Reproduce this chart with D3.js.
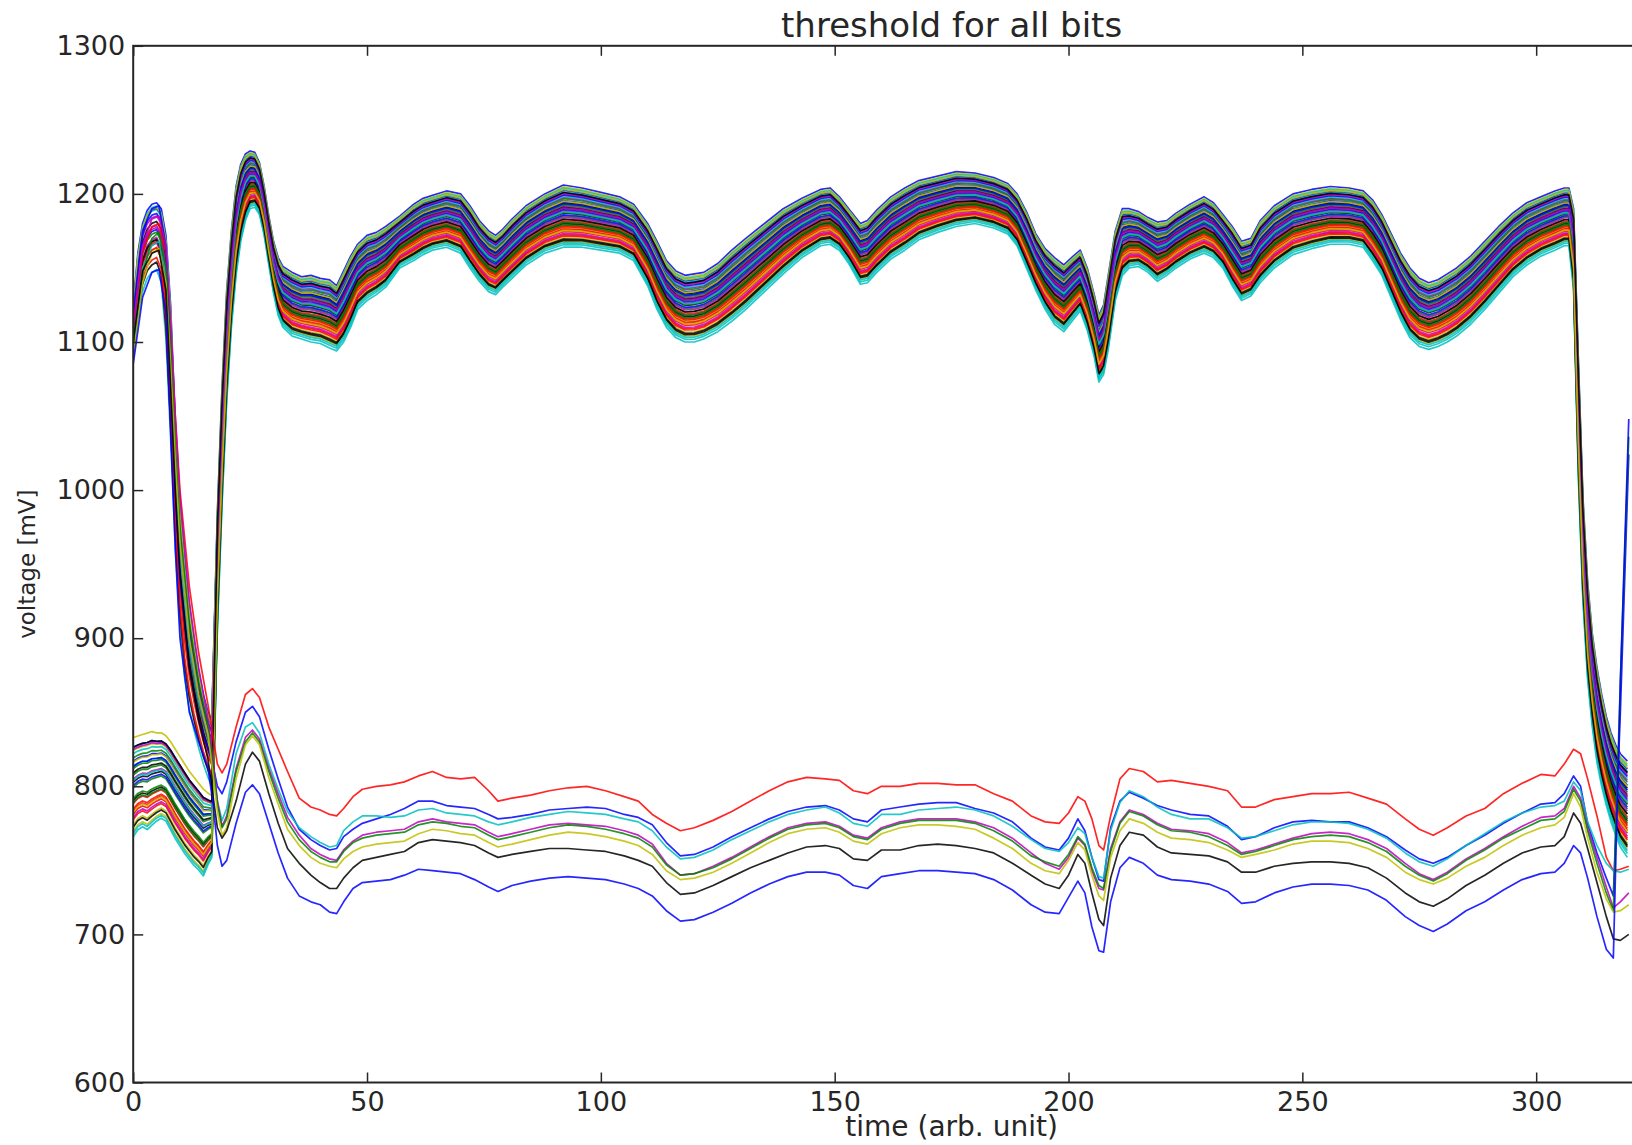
<!DOCTYPE html>
<html><head><meta charset="utf-8">
<script src="https://cdn.jsdelivr.net/npm/d3@7"></script>
<style>
body{margin:0;background:#fff;}
svg{display:block;background:#fff;}
text{font-family:"DejaVu Sans",sans-serif;fill:#262626;}
</style>
</head><body>
<svg id="chart" width="1632" height="1145"></svg>
<script>
// ---------- data ----------
const titleText = "threshold for all bits";
const xLabelText = "time (arb. unit)";
const yLabelText = "voltage [mV]";
const xTicks = [0, 50, 100, 150, 200, 250, 300];
const yTicks = [600, 700, 800, 900, 1000, 1100, 1200, 1300];
const colorCodes = {b:"#0000ff", g:"#008000", r:"#ff0000", c:"#00bfbf", m:"#bf00bf", y:"#bfbf00", k:"#000000"};

// early part (before the big jump) : two start groups, band top / bottom
const earlyT    = [0,1,2,3,4,5,6,7,8,9,10,11,12,13,14,15,16,16.8];
const groupAHi  = [1125,1160,1180,1189,1193,1194,1190,1172,1125,1045,990,952,922,898,878,862,850,845];
const groupALo  = [1088,1115,1134,1143,1147,1149,1140,1102,1035,962,908,873,852,838,826,815,806,800];
const groupBHi  = [835,836,837,838,839,838,838,836,832,827,822,817,812,808,804,800,797,795];
const groupBLo  = [763,768,770,768,771,774,776,774,768,762,757,752,748,744,741,737,745,750];

// upper bundle after the jump: band top / bottom
const bundleT = [18,19,20,21,22,23,24,25,26,27,28,29,30,31,32,34,36,38,40,42,43.5,45,46.5,48,50,52,54,57,60,62,64,67,70,72,74,76,77.5,79,81,84,88,92,96,100,104,107,110,112,114,116,118,120,122,125,128,131,135,139,143,147,149,151,153,155.5,157,159,162,165,168,172,176,180,184,187,189,191,193,195,197,199,201,202.5,204,205.5,206.5,207.5,208.5,210,211.5,213,215,217,219,221,223,226,229,231,233,235,237,239,241,244,248,252,256,260,263,265,267,269,271,273,275,277,279,281,283,286,289,292,295,298,301,304,306,307,308,309,310,311,312,313,314,315,316,317,318,319.5];
const bundleTop = [985,1070,1135,1175,1205,1220,1227,1229,1228,1221,1205,1185,1168,1157,1151,1147,1144,1145,1143,1142,1138,1148,1158,1166,1172,1174,1178,1185,1193,1197,1199,1202,1200,1192,1182,1175,1172,1176,1183,1192,1200,1206,1204,1201,1198,1193,1180,1168,1155,1148,1145,1146,1147,1153,1162,1170,1180,1190,1197,1203,1204,1198,1190,1180,1182,1189,1198,1204,1209,1212,1215,1214,1211,1207,1200,1188,1173,1163,1157,1152,1158,1162,1150,1132,1118,1125,1145,1175,1190,1190,1188,1184,1181,1182,1187,1193,1198,1194,1186,1178,1168,1170,1182,1192,1200,1203,1205,1204,1202,1196,1186,1173,1160,1150,1143,1140,1142,1146,1150,1158,1168,1178,1187,1194,1198,1202,1204,1204,1190,1090,995,938,903,880,862,847,836,828,822,817];
const bundleBottom = [905,990,1060,1110,1145,1168,1182,1190,1191,1186,1172,1152,1133,1118,1110,1104,1102,1100,1099,1096,1094,1100,1110,1122,1128,1132,1137,1150,1155,1159,1162,1164,1160,1150,1141,1134,1132,1137,1143,1152,1160,1164,1164,1162,1160,1155,1138,1122,1110,1103,1100,1100,1102,1107,1114,1122,1134,1146,1157,1165,1166,1162,1153,1139,1140,1147,1156,1162,1169,1174,1178,1180,1177,1173,1165,1150,1135,1122,1112,1107,1115,1121,1108,1090,1073,1078,1095,1128,1145,1150,1151,1147,1141,1145,1150,1156,1160,1157,1150,1138,1128,1131,1140,1150,1159,1163,1166,1166,1164,1155,1145,1130,1115,1103,1097,1095,1097,1100,1104,1112,1122,1133,1144,1152,1158,1162,1165,1165,1135,1010,925,872,840,816,800,787,776,767,759,752];

// 56 bundle lines: colour, position inside the band, start group (1 = starts high)
const bundleColors = "bgrcmykbgrcmykbgrcmykbgrcmykbgrcmykbgrcmykbgrcmykbgrcmyk".split("");
const bundleFrac = [1.0,.62,.35,.00,.80,.97,.55, .88,.45,.25,.70,.40,.15,.72, .60,.78,.30,.90,.58,.09,.11, .75,.50,.42,.07,.66,.85,.38,
                    .92,.68,.20,.82,.48,.32,.64, .52,.56,.28,.95,.22,.74,.45, .84,.36,.18,.04,.86,.93,.13, .70,.40,.33,.57,.63,.27,.88];
const bundleGroup = [1,0,0,1,1,0,0, 0,1,0,0,1,0,1, 1,0,0,1,0,0,1, 0,0,1,0,1,0,0, 1,0,0,0,1,1,0, 0,1,0,1,0,0,1, 1,0,1,0,0,1,0, 0,0,1,0,1,0,0];

// 8 lines that stay low
const lowT = [0,2,4,5.5,7,8,9,10,12,14,16,17,18,19,20,
  22,24,25.5,27,29,31,33,35.5,38,40, 42,43.5,45,47,49,52,55,58,61,64, 67,70,73,76,78,81,85,89,93,97,
  101,105,108,111,114,117,120,124,128,132, 136,140,144,148,151,154,157,160,164,168, 172,176,180,184,188,192,195,198,200,202,
  203.5,205,206.5,207.5,209,211,213,216,219,222, 226,230,234,237,240,244,248,252,256,260, 264,268,272,275,278,281,285,289,293,297,
  301,304,306,308,309.5,311,313,315,316.5,318, 319.8];
const lowRed = [1105,1160,1178,1180,1160,1110,1050,1000,935,890,855,835,815,809,815,
  840,862,866,860,840,825,810,792,786,784, 781,780,785,793,798,800,801,803,807,810, 806,805,806,797,790,792,794,797,799,800,
  797,793,790,781,775,770,772,777,783,790, 797,803,806,805,804,797,795,800,800,802, 802,801,801,795,790,780,776,775,782,793,
  790,778,760,757,780,805,812,810,803,804, 802,800,797,786,786,791,793,795,795,796, 792,788,778,771,767,772,780,785,795,802,
  808,807,815,825,822,805,780,752,743,744, 746];
const lowBlueUpper = [1120,1175,1190,1192,1165,1090,1000,940,880,845,825,815,800,795,803,
  830,850,854,847,825,805,786,771,764,760, 757,758,766,771,775,778,781,785,790,790, 787,786,785,781,778,779,781,784,785,786,
  785,781,779,774,762,753,754,759,766,772, 778,783,786,787,784,778,776,784,786,788, 789,789,785,782,776,765,759,757,765,778,
  770,752,737,736,772,790,796,792,787,784, 781,780,773,764,766,772,776,777,776,776, 772,766,757,751,748,752,760,767,775,782,
  788,789,795,807,800,775,755,738,726,850, 1024];
const lowCyan = [1100,1150,1165,1168,1145,1080,1010,955,895,858,835,815,790,777,785,
  822,840,843,836,815,798,783,772,766,762, 759,760,770,776,780,780,779,780,784,785, 782,781,780,776,774,776,779,781,783,782,
  781,778,776,770,759,751,752,757,764,770, 776,781,784,786,782,775,773,781,781,784, 785,786,784,780,773,764,758,756,762,772,
  768,752,739,738,770,789,797,793,786,781, 778,778,772,765,766,770,774,776,776,775, 771,765,755,749,746,751,760,768,776,782,
  786,787,790,803,797,776,760,748,743,742, 744];
const lowMagenta = [1110,1165,1183,1185,1165,1115,1050,995,925,880,845,820,790,773,780,
  812,833,838,832,812,795,779,767,758,754, 751,750,757,763,767,769,770,771,776,778, 776,775,774,769,766,768,771,774,775,774,
  773,770,767,761,748,740,741,746,752,759, 766,772,775,776,773,767,765,772,776,778, 778,778,776,772,765,755,748,744,752,765,
  760,743,731,730,758,776,784,781,775,771, 770,768,762,755,757,761,765,768,769,768, 764,758,748,741,737,742,751,758,766,773,
  779,780,785,800,792,772,752,732,718,722, 728];
const lowGreen = [1095,1145,1170,1174,1150,1095,1030,975,910,870,840,815,788,772,778,
  810,830,836,830,810,792,776,764,756,752, 749,749,756,762,765,767,768,769,774,776, 775,773,772,767,764,766,769,772,774,773,
  771,768,765,759,747,740,741,745,751,758, 765,771,774,775,772,766,764,771,775,777, 777,777,775,770,763,753,749,746,754,766,
  761,745,733,731,756,775,783,780,774,770, 769,766,760,754,756,760,764,766,767,766, 762,756,746,740,736,741,750,757,765,771,
  777,778,783,798,790,770,748,728,716,870, 1036];
const lowYellow = [1090,1140,1160,1163,1140,1085,1020,965,900,862,835,810,783,767,772,
  805,828,834,828,806,788,771,760,752,748, 746,745,751,756,759,761,762,763,768,771, 770,768,767,762,759,761,764,767,769,768,
  766,763,760,754,743,737,738,742,748,755, 762,768,771,772,769,763,761,768,772,774, 774,773,771,765,758,748,743,741,750,762,
  757,740,726,723,752,770,778,775,769,765, 764,762,757,752,754,757,761,763,763,762, 758,752,742,737,734,738,746,752,760,767,
  772,774,779,795,786,765,742,724,715,716, 720];
const lowBlack = [1100,1148,1160,1162,1135,1070,1000,945,880,845,818,795,772,765,770,
  790,815,823,817,795,775,758,748,740,735, 731,731,738,745,750,752,754,756,762,764, 763,762,760,755,752,754,756,758,758,757,
  756,753,750,746,735,727,728,733,739,745, 750,755,759,760,758,751,750,757,757,760, 761,760,758,755,748,740,734,731,740,754,
  748,728,710,706,738,760,769,767,759,755, 754,753,749,742,742,746,748,749,749,748, 745,738,728,722,719,724,733,740,748,755,
  759,760,766,782,775,758,735,712,697,696, 700];
const lowBlueLower = [1085,1130,1147,1149,1120,1040,960,900,850,830,812,790,760,746,750,
  775,796,801,795,775,755,738,726,722,720, 715,714,722,731,735,736,737,740,744,743, 742,741,737,732,729,733,736,738,739,738,
  737,734,731,726,716,709,710,715,721,728, 734,739,742,742,740,733,731,739,741,743, 743,742,741,737,730,720,715,714,725,736,
  728,705,689,688,722,745,752,748,740,737, 736,734,729,721,722,728,732,734,734,733, 730,723,712,706,702,707,716,722,730,737,
  741,742,748,760,755,738,712,690,684,870, 1048];
const lowLines = [
  {color:"r", values:lowRed}, {color:"b", values:lowBlueUpper}, {color:"c", values:lowCyan},
  {color:"m", values:lowMagenta}, {color:"g", values:lowGreen}, {color:"y", values:lowYellow},
  {color:"k", values:lowBlack}, {color:"b", values:lowBlueLower}
];

// ---------- build series ----------
const series = [];
bundleColors.forEach((c, i) => {
  const f = bundleFrac[i];
  const hi = bundleGroup[i] ? groupAHi : groupBHi;
  const lo = bundleGroup[i] ? groupALo : groupBLo;
  const pts = earlyT.map((t, j) => [t, lo[j] + f * (hi[j] - lo[j])]);
  bundleT.forEach((t, j) => pts.push([t, bundleBottom[j] + f * (bundleTop[j] - bundleBottom[j])]));
  series.push({color: colorCodes[c], pts});
});
lowLines.forEach(l => {
  const n = Math.min(lowT.length, l.values.length);
  const pts = [];
  for (let j = 0; j < n; j++) pts.push([lowT[j], l.values[j]]);
  series.push({color: colorCodes[l.color], pts});
});

// ---------- draw ----------
const M = {left: 133.2, top: 45.8, bottom: 1082.5, right: 1770};
const svg = d3.select("#chart");
const x = d3.scaleLinear().domain([0, 350]).range([M.left, M.right]);
const y = d3.scaleLinear().domain([600, 1300]).range([M.bottom, M.top]);

svg.append("defs").append("clipPath").attr("id", "plotclip")
  .append("rect").attr("x", M.left).attr("y", M.top)
  .attr("width", M.right - M.left).attr("height", M.bottom - M.top);

const line = d3.line().x(d => x(d[0])).y(d => y(d[1]));
svg.append("g").attr("clip-path", "url(#plotclip)")
  .selectAll("path").data(series).join("path")
  .attr("d", d => line(d.pts))
  .attr("fill", "none")
  .attr("stroke", d => d.color)
  .attr("stroke-width", 1.7)
  .attr("stroke-linejoin", "round")
  .attr("opacity", 0.85);

// axes (ticks inward, matplotlib classic style)
const fontSize = 27;
function styleAxis(g) {
  g.select(".domain").remove();
  g.selectAll(".tick line").attr("stroke", "#262626").attr("stroke-width", 1.5);
  g.selectAll(".tick text").attr("font-family", "DejaVu Sans").attr("font-size", fontSize).attr("fill", "#262626");
}
svg.append("g").attr("transform", `translate(0,${M.bottom})`)
  .call(d3.axisBottom(x).tickValues(xTicks).tickSize(-10).tickPadding(9).tickFormat(d3.format("d")))
  .call(styleAxis);
svg.append("g").attr("transform", `translate(0,${M.top})`)
  .call(d3.axisTop(x).tickValues(xTicks).tickSize(-10).tickFormat(""))
  .call(styleAxis);
svg.append("g").attr("transform", `translate(${M.left},0)`)
  .call(d3.axisLeft(y).tickValues(yTicks).tickSize(-10).tickPadding(8).tickFormat(d3.format("d")))
  .call(styleAxis);
svg.append("g").attr("transform", `translate(${M.right},0)`)
  .call(d3.axisRight(y).tickValues(yTicks).tickSize(-10).tickFormat(""))
  .call(styleAxis);

// frame
svg.append("rect").attr("x", M.left).attr("y", M.top)
  .attr("width", M.right - M.left).attr("height", M.bottom - M.top)
  .attr("fill", "none").attr("stroke", "#262626").attr("stroke-width", 2);

const cx = (M.left + M.right) / 2;
svg.append("text").attr("x", cx).attr("y", 37).attr("text-anchor", "middle")
  .attr("font-size", 34).text(titleText);
svg.append("text").attr("x", cx).attr("y", 1136).attr("text-anchor", "middle")
  .attr("font-size", 28).text(xLabelText);
svg.append("text").attr("transform", `translate(35,${(M.top + M.bottom) / 2}) rotate(-90)`)
  .attr("text-anchor", "middle").attr("font-size", 23).text(yLabelText);
</script>
</body></html>
